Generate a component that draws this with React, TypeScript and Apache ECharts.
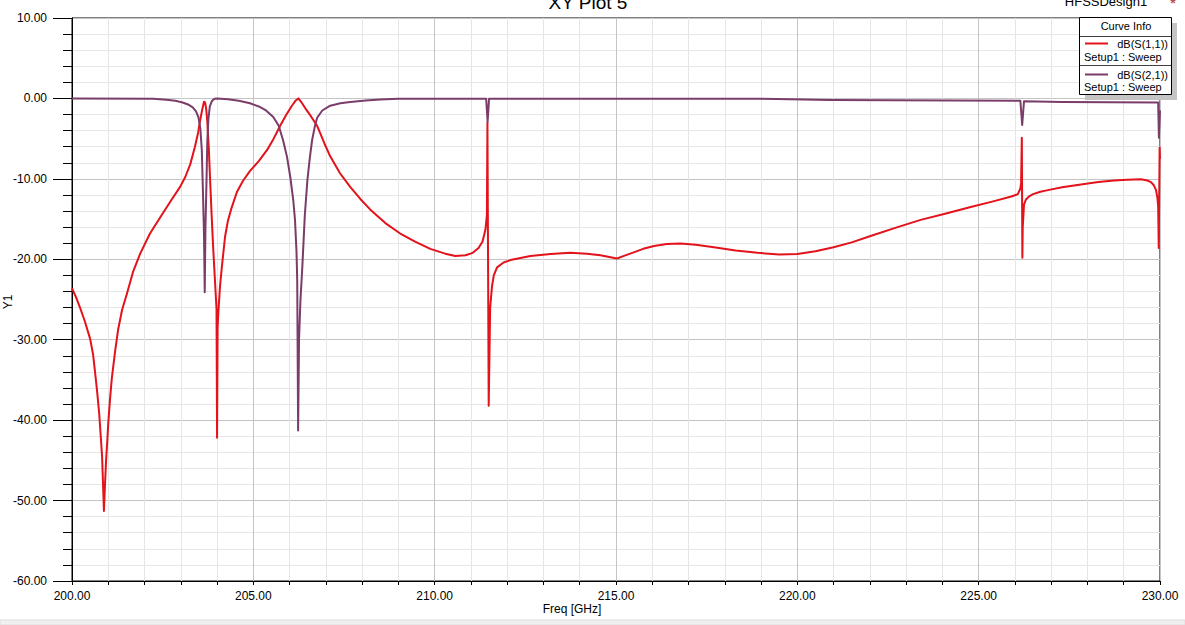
import React, { useEffect, useRef } from "react";
import * as echarts from "echarts";

// dB(S(1,1)) : [freq GHz, dB]
const s11Data: [number, number][] = [
  [200.0, -23.6], [200.11, -24.7], [200.22, -26.0], [200.36, -27.8], [200.5, -29.9],
  [200.58, -31.8], [200.63, -33.8], [200.69, -36.3], [200.75, -39.2], [200.8, -42.5],
  [200.83, -44.6], [200.86, -48.5], [200.88, -51.3], [200.91, -48.0], [200.94, -45.0],
  [200.97, -42.8], [201.0, -40.4], [201.05, -37.3], [201.1, -34.7], [201.19, -31.4],
  [201.27, -28.8], [201.38, -26.3], [201.52, -24.2], [201.68, -21.6], [201.88, -19.3],
  [202.15, -16.8], [202.43, -14.8], [202.7, -12.9], [202.98, -11.0], [203.12, -9.8],
  [203.26, -8.2], [203.39, -6.0], [203.48, -4.2], [203.53, -2.8], [203.59, -1.4],
  [203.64, -0.4], [203.67, -0.5], [203.7, -1.3], [203.73, -2.8], [203.77, -6.0],
  [203.81, -10.3], [203.85, -14.5], [203.89, -18.3], [203.94, -22.5], [203.985, -26.2],
  [204.0, -42.2], [204.015, -28.5], [204.03, -27.0], [204.08, -23.4], [204.14, -20.6],
  [204.22, -17.2], [204.3, -15.2], [204.4, -13.6], [204.55, -11.6], [204.72, -10.2],
  [204.91, -9.0], [205.15, -7.8], [205.38, -6.4], [205.56, -5.0], [205.74, -3.4],
  [205.9, -2.1], [206.05, -1.0], [206.16, -0.3], [206.24, 0.0], [206.33, -0.5],
  [206.46, -1.4], [206.6, -2.3], [206.76, -3.4], [206.96, -5.6], [207.12, -7.2],
  [207.39, -9.3], [207.67, -11.0], [207.95, -12.5], [208.22, -13.8], [208.64, -15.5],
  [209.05, -16.8], [209.46, -17.8], [209.88, -18.7], [210.29, -19.3], [210.57, -19.6],
  [210.85, -19.5], [211.05, -19.2], [211.21, -18.6], [211.32, -17.8], [211.4, -16.3],
  [211.44, -14.5], [211.455, -3.0], [211.49, -38.2], [211.53, -26.0], [211.58, -23.4],
  [211.63, -22.0], [211.72, -21.0], [211.9, -20.4], [212.09, -20.1], [212.64, -19.6],
  [213.2, -19.35], [213.74, -19.2], [214.2, -19.3], [214.57, -19.5], [214.85, -19.75],
  [215.03, -19.9], [215.2, -19.6], [215.45, -19.2], [215.75, -18.7], [216.05, -18.35],
  [216.4, -18.1], [216.78, -18.05], [217.2, -18.2], [217.7, -18.5], [218.3, -18.9],
  [218.9, -19.2], [219.5, -19.4], [220.0, -19.35], [220.5, -19.0], [221.0, -18.5],
  [221.5, -17.9], [222.02, -17.1], [222.7, -16.1], [223.4, -15.1], [224.1, -14.3],
  [224.78, -13.5], [225.4, -12.8], [225.9, -12.2], [226.08, -11.9], [226.15, -11.2],
  [226.17, -10.5], [226.19, -4.9], [226.205, -19.8], [226.215, -16.0], [226.25, -13.2],
  [226.3, -12.6], [226.38, -12.2], [226.5, -11.9], [226.7, -11.6], [226.91, -11.4],
  [227.3, -11.05], [227.82, -10.7], [228.3, -10.4], [228.73, -10.2], [229.1, -10.1],
  [229.48, -10.05], [229.65, -10.2], [229.75, -10.4], [229.83, -10.8], [229.89, -11.4],
  [229.93, -12.4], [229.95, -13.5], [229.965, -18.6], [229.99, -6.1], [230.0, -7.5],
];

// dB(S(2,1)) : [freq GHz, dB]
const s21Data: [number, number][] = [
  [200.0, -0.02], [202.24, -0.05], [202.6, -0.15], [202.85, -0.3], [203.05, -0.5],
  [203.2, -0.75], [203.33, -1.1], [203.42, -1.6], [203.49, -2.4], [203.54, -3.8],
  [203.58, -6.5], [203.61, -11.5], [203.64, -17.0], [203.66, -24.1], [203.68, -16.0],
  [203.71, -10.0], [203.73, -5.5], [203.76, -2.6], [203.8, -1.0], [203.86, -0.3],
  [203.93, -0.05], [204.0, 0.0], [204.3, -0.1], [204.6, -0.3], [204.91, -0.6],
  [205.15, -1.0], [205.35, -1.5], [205.55, -2.3], [205.7, -3.4], [205.82, -5.2],
  [205.93, -7.3], [206.02, -9.8], [206.1, -12.6], [206.15, -15.2], [206.19, -19.0],
  [206.21, -22.6], [206.235, -41.3], [206.26, -30.0], [206.3, -25.0], [206.35, -21.0],
  [206.42, -14.5], [206.49, -10.2], [206.56, -7.3], [206.62, -5.2], [206.7, -3.4],
  [206.76, -2.4], [206.9, -1.5], [207.12, -0.9], [207.4, -0.6], [207.67, -0.45],
  [208.1, -0.25], [208.5, -0.12], [209.0, -0.05], [211.42, -0.05], [211.46, -2.9],
  [211.5, -0.05], [219.0, -0.05], [220.9, -0.2], [226.15, -0.3], [226.2, -3.3],
  [226.25, -0.35], [227.3, -0.45], [229.95, -0.5], [229.97, -4.9], [230.0, -1.5],
];

const xTicks = { min: 200, max: 230, interval: 5 };
const yTicks = { min: -60, max: 10, interval: 10 };

const FONT = "Arial, 'Liberation Sans', sans-serif";
const RED = "#e3121b";
const PURPLE = "#7a3c68";

export default function App() {
  const ref = useRef<HTMLDivElement>(null);
  useEffect(() => {
    if (!ref.current) return;
    const chart = echarts.init(ref.current, null, { renderer: "svg" });
    const majorGrid = "#c4c4c4";
    const minorGrid = "#e6e6e6";
    chart.setOption({
      animation: false,
      backgroundColor: "#ffffff",
      grid: {
        left: 72,
        top: 18,
        right: 25,
        bottom: 44,
        show: true,
        borderColor: "#000",
        borderWidth: 1,
        backgroundColor: "#fff",
      },
      xAxis: {
        type: "value",
        min: xTicks.min,
        max: xTicks.max,
        interval: xTicks.interval,
        axisLine: { show: true, onZero: false, lineStyle: { color: "#000", width: 1 } },
        axisTick: { show: true, length: 4, lineStyle: { color: "#000" } },
        minorTick: { show: true, splitNumber: 5, length: 4, lineStyle: { color: "#000" } },
        splitLine: { show: true, lineStyle: { color: majorGrid, width: 1 } },
        minorSplitLine: { show: true, lineStyle: { color: minorGrid, width: 1 } },
        axisLabel: {
          formatter: (v: number) => v.toFixed(2),
          color: "#000",
          fontSize: 12,
          fontFamily: FONT,
          margin: 9,
        },
      },
      yAxis: {
        type: "value",
        min: yTicks.min,
        max: yTicks.max,
        interval: yTicks.interval,
        axisLine: { show: true, onZero: false, lineStyle: { color: "#000", width: 1 } },
        axisTick: { show: true, length: 19, lineStyle: { color: "#000" } },
        minorTick: { show: true, splitNumber: 5, length: 9, lineStyle: { color: "#000" } },
        splitLine: { show: true, lineStyle: { color: majorGrid, width: 1 } },
        minorSplitLine: { show: true, lineStyle: { color: minorGrid, width: 1 } },
        axisLabel: {
          formatter: (v: number) => v.toFixed(2),
          color: "#000",
          fontSize: 12,
          fontFamily: FONT,
          margin: 25,
        },
      },
      series: [
        {
          name: "dB(S(1,1))",
          type: "line",
          data: s11Data,
          showSymbol: false,
          symbol: "none",
          lineStyle: { color: RED, width: 2, join: "round" },
          itemStyle: { color: RED },
          z: 3,
        },
        {
          name: "dB(S(2,1))",
          type: "line",
          data: s21Data,
          showSymbol: false,
          symbol: "none",
          lineStyle: { color: PURPLE, width: 2, join: "round" },
          itemStyle: { color: PURPLE },
          z: 4,
        },
      ],
      graphic: [
        {
          type: "text",
          x: 588,
          y: 2,
          style: {
            text: "XY Plot 5",
            fill: "#000",
            font: `19px ${FONT}`,
            textAlign: "center",
            textVerticalAlign: "middle",
          },
        },
        {
          type: "text",
          x: 1106,
          y: 1,
          style: {
            text: "HFSSDesign1",
            fill: "#000",
            font: `13px ${FONT}`,
            textAlign: "center",
            textVerticalAlign: "middle",
          },
        },
        {
          type: "text",
          x: 1173,
          y: 3,
          style: {
            text: "*",
            fill: "#c0504d",
            font: `bold 14px ${FONT}`,
            textAlign: "center",
            textVerticalAlign: "middle",
          },
        },
        {
          type: "text",
          x: 8,
          y: 302,
          rotation: Math.PI / 2,
          style: {
            text: "Y1",
            fill: "#000",
            font: `12px ${FONT}`,
            textAlign: "center",
            textVerticalAlign: "middle",
          },
        },
        {
          type: "text",
          x: 572,
          y: 609,
          style: {
            text: "Freq [GHz]",
            fill: "#000",
            font: `12px ${FONT}`,
            textAlign: "center",
            textVerticalAlign: "middle",
          },
        },
        // bottom strip
        {
          type: "rect",
          shape: { x: 0, y: 620, width: 1185, height: 5 },
          style: { fill: "#f0f0f0", stroke: "#dedede", lineWidth: 1 },
          z: 10,
        },
        // legend shadow
        {
          type: "rect",
          shape: { x: 1085, y: 23, width: 92, height: 77 },
          style: { fill: "#c4c4c4" },
          z: 20,
        },
        // legend box
        {
          type: "rect",
          shape: { x: 1079.5, y: 17.5, width: 92, height: 77 },
          style: { fill: "#fff", stroke: "#000", lineWidth: 1 },
          z: 21,
        },
        {
          type: "line",
          shape: { x1: 1080, y1: 36.5, x2: 1171, y2: 36.5 },
          style: { stroke: "#404040", lineWidth: 1 },
          z: 22,
        },
        {
          type: "line",
          shape: { x1: 1080, y1: 65.5, x2: 1171, y2: 65.5 },
          style: { stroke: "#404040", lineWidth: 1 },
          z: 22,
        },
        {
          type: "text",
          x: 1126,
          y: 26,
          z: 22,
          style: { text: "Curve Info", fill: "#000", font: `11px ${FONT}`, textAlign: "center", textVerticalAlign: "middle" },
        },
        {
          type: "line",
          shape: { x1: 1085, y1: 43.5, x2: 1108, y2: 43.5 },
          style: { stroke: RED, lineWidth: 2 },
          z: 22,
        },
        {
          type: "text",
          x: 1168,
          y: 44,
          z: 22,
          style: { text: "dB(S(1,1))", fill: "#000", font: `11px ${FONT}`, textAlign: "right", textVerticalAlign: "middle" },
        },
        {
          type: "text",
          x: 1084,
          y: 57,
          z: 22,
          style: { text: "Setup1 : Sweep", fill: "#000", font: `11px ${FONT}`, textAlign: "left", textVerticalAlign: "middle" },
        },
        {
          type: "line",
          shape: { x1: 1085, y1: 74.5, x2: 1108, y2: 74.5 },
          style: { stroke: PURPLE, lineWidth: 2 },
          z: 22,
        },
        {
          type: "text",
          x: 1168,
          y: 75,
          z: 22,
          style: { text: "dB(S(2,1))", fill: "#000", font: `11px ${FONT}`, textAlign: "right", textVerticalAlign: "middle" },
        },
        {
          type: "text",
          x: 1084,
          y: 87,
          z: 22,
          style: { text: "Setup1 : Sweep", fill: "#000", font: `11px ${FONT}`, textAlign: "left", textVerticalAlign: "middle" },
        },
      ],
    });
    return () => chart.dispose();
  }, []);
  return (
    <div
      ref={ref}
      style={{ position: "absolute", left: 0, top: 0, width: 1185, height: 625, background: "#fff" }}
    />
  );
}
